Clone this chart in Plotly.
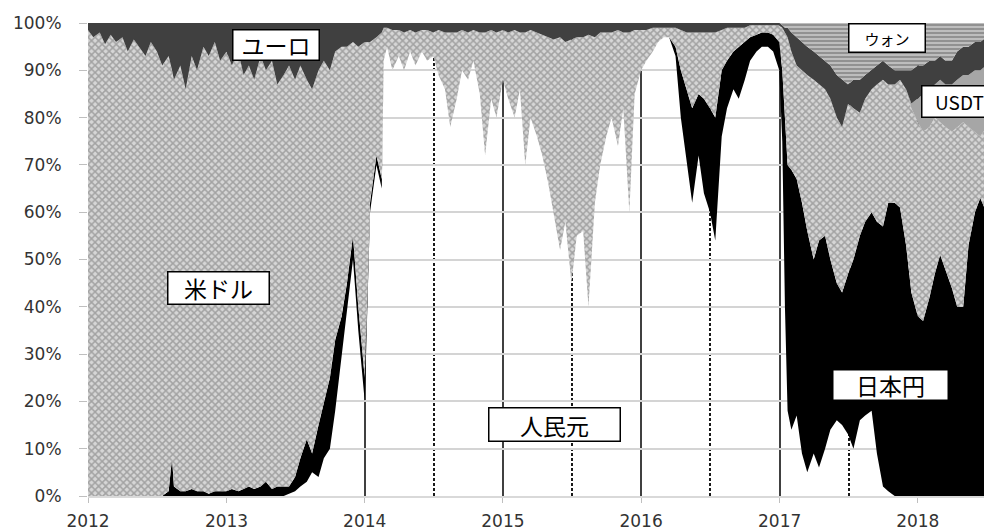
import plotly.graph_objects as go

# ---- data (share of trading volume, %) ----
dates = [
    # 2012
    "2012-01-01","2012-01-15","2012-02-01","2012-02-15","2012-03-01","2012-03-15","2012-04-01","2012-04-15",
    "2012-05-01","2012-05-15","2012-06-01","2012-06-15","2012-07-01","2012-07-15","2012-08-01","2012-08-10",
    "2012-08-15","2012-09-01","2012-09-15","2012-10-01","2012-10-15","2012-11-01","2012-11-15","2012-12-01","2012-12-15",
    # 2013
    "2013-01-01","2013-01-15","2013-02-01","2013-02-15","2013-03-01","2013-03-15","2013-04-01","2013-04-15",
    "2013-05-01","2013-05-15","2013-06-01","2013-06-15","2013-07-01","2013-07-15","2013-08-01","2013-08-15",
    "2013-09-01","2013-09-15","2013-10-01","2013-10-15","2013-11-01","2013-11-15","2013-12-01","2013-12-15",
    # 2014
    "2014-01-01","2014-01-15","2014-02-01","2014-02-15","2014-02-20","2014-03-01","2014-03-15","2014-04-01",
    "2014-04-15","2014-05-01","2014-05-15","2014-06-01","2014-06-15","2014-07-01","2014-07-15","2014-08-01",
    "2014-08-15","2014-09-01","2014-09-15","2014-10-01","2014-10-15","2014-11-01","2014-11-15","2014-12-01","2014-12-15",
    # 2015
    "2015-01-01","2015-01-15","2015-02-01","2015-02-15","2015-03-01","2015-03-15","2015-04-01","2015-04-15",
    "2015-05-01","2015-05-15","2015-06-01","2015-06-15","2015-07-01","2015-07-15","2015-08-01","2015-08-15",
    "2015-09-01","2015-09-15","2015-10-01","2015-10-15","2015-11-01","2015-11-15","2015-12-01","2015-12-15",
    # 2016
    "2016-01-01","2016-01-15","2016-02-01","2016-02-15","2016-03-01","2016-03-15","2016-04-01","2016-04-15",
    "2016-05-01","2016-05-15","2016-06-01","2016-06-15","2016-07-01","2016-07-15","2016-08-01","2016-08-15",
    "2016-09-01","2016-09-15","2016-10-01","2016-10-15","2016-11-01","2016-11-15","2016-12-01","2016-12-15","2016-12-31",
    # 2017
    "2017-01-08","2017-01-15","2017-01-22","2017-02-01","2017-02-15","2017-03-01","2017-03-15","2017-04-01",
    "2017-04-15","2017-05-01","2017-05-15","2017-06-01","2017-06-15","2017-07-01","2017-07-15","2017-08-01",
    "2017-08-15","2017-09-01","2017-09-15","2017-10-01","2017-10-15","2017-11-01","2017-11-15","2017-12-01","2017-12-15",
    # 2018
    "2018-01-01","2018-01-15","2018-02-01","2018-02-15","2018-03-01","2018-03-15","2018-04-01","2018-04-15",
    "2018-05-01","2018-05-15","2018-06-01","2018-06-15","2018-07-01","2018-07-15",
]

cny = [
    0,0,0,0,0,0,0,0,0,0,0,0,0,0,0,0,0,0,0,0,0,0,0,0,0,
    0,0,0,0,0,0,0,0,0,0,0,0.5,1,2,3,5,4,8,10,18,30,40,50,35,
    20,60,70,65,92,95,90,93,90,94,91,94,92,93,89,86,78,84,90,88,92,85,72,84,80,
    88,84,80,86,70,80,76,72,66,60,52,58,45,55,56,40,62,70,76,80,74,82,60,85,
    90,92,94,96,97,97,93,80,70,62,72,64,60,54,76,82,86,84,88,92,94,95,95,94,90,
    75,40,18,14,17,9,5,9,6,10,14,16,15,13,10,16,17,18,9,2,1,0,0,0,0,
    0,0,0,0,0,0,0,0,0,0,0,0,0,0,
]

jpy = [
    0,0,0,0,0,0,0,0,0,0,0,0,0,0,1,8,2,1,1,1.5,1,1,0.5,1,1,
    1,1.5,1,1.5,2,1.5,2,3,1.5,2,2,1.5,3,6,9,4,11,12,15,15,8,5,5,5,
    5,2,2,2,0,0,0,0,0,0,0,0,0,0,0,0,0,0,0,0,0,0,0,0,0,
    0,0,0,0,0,0,0,0,0,0,0,0,0,0,0,0,0,0,0,0,0,0,0,0,
    0,0,0,0,0,0,2,10,16,20,13,20,22,26,14,10,8,11,8,5,3.5,3,3,3.5,6,
    15,40,52,55,50,53,51,41,48,45,36,29,28,34,40,39,41,42,49,55,61,62,61,53,43,
    38,37,42,47,51,48,44,40,40,53,60,63,60,52,
]

usd = [
    98.5,97,98,95.5,97.5,96,97,94,96.5,95,93,96,94,91,92,82,86,90,85,91.5,89,94,92.5,95,91,
    93,89.5,93,87.5,89,86.5,91,87,90.5,85,87,89,84,83,76,77,75,72,65,61,57,50,41,55,
    71,34,25,31,7,4,8.5,5.5,8,4.5,7,4.5,6.5,5,9.5,12,20,14,8.5,10,6.5,13,26,14.5,18,
    10.5,14,18.5,12,28,18.5,22,25.5,31,36.5,45,38,51.5,42,41,57.5,35,28,22,18,24.5,16,38,13.5,
    8.5,6.5,5,3,2,2,4,8.5,12,16,13,14,16,18,8.5,7,5,4,3,2.5,2,1.5,1.5,2,3.5,
    9,18,27,25,24,28,33,38,33,31,34,35,35,36,32,26,26,26,29,31,25,25,27,33,39,
    41,40,36,33,28,30,33,38,39,25,17,13,18,27,
]

usdt = [0] * 147 + [1] + [5,8,8,7,9,9,10,10,10,11,13,14,13,13]

eur = [
    1.5,3,2,4.5,2.5,4,3,6,3.5,5,7,4,6,9,7,10,12,9,14,7,10,5,7,4,8,
    6,9,6,11,9,12,7,10,8,13,11,9,12,9,12,14,10,8,10,6,5,5,4,5,
    4,4,3,2,1,1,1.5,1.5,2,1.5,2,1.5,1.5,2,1.5,2,2,2,1.5,2,1.5,2,2,1.5,2,
    1.5,2,1.5,2,2,1.5,2,2.5,3,3.5,3,4,3.5,3,3,2.5,3,2,2,2,1.5,2,2,1.5,
    1.5,1.5,1,1,1,1,1,1.5,2,2,2,2,2,2,1.5,1,1,1,1,0.5,0.5,0.5,0.5,0.5,0.5,
    0.5,1,2,4,6,6,6,6,6,6,7,9,10,4,6,7,5,4,4,4,4,3,2,4,7,
    7,6,6,5,5,5,5,6,6,6,6,6,6,5,
]

krw = [0] * 123 + [
    0.5,1,1,2,3,4,5,6,7,8,9,11,12,13,12,12,11,10,9,8,9,10,10,10,10,
    9,9,8,8,7,8,8,6,5,5,4,4,3,3,
]

year_ticks = ["2012-01-01","2013-01-01","2014-01-01","2015-01-01","2016-01-01","2017-01-01","2018-01-01"]
year_labels = ["2012","2013","2014","2015","2016","2017","2018"]
half_year_ticks = ["2014-07-02","2015-07-02","2016-07-01","2017-07-02"]
pct_ticks = [0,10,20,30,40,50,60,70,80,90,100]
pct_labels = ["0%","10%","20%","30%","40%","50%","60%","70%","80%","90%","100%"]

labels = {"cny": "人民元", "jpy": "日本円", "usd": "米ドル", "usdt": "USDT", "eur": "ユーロ", "krw": "ウォン"}

# ---- figure ----
fig = go.Figure()

def add(name, vals, fillcolor, pattern=None):
    fig.add_trace(go.Scatter(
        x=dates, y=vals, name=name, stackgroup="one", mode="lines",
        line=dict(width=0, color=fillcolor), fillcolor=fillcolor,
        fillpattern=pattern, hoverinfo="skip",
    ))

add(labels["cny"], cny, "rgba(255,255,255,0)")
add(labels["jpy"], jpy, "#000000")
add(labels["usd"], usd, "#c4c4c4",
    dict(shape="x", size=5, solidity=0.5, fgcolor="#6e6e6e", bgcolor="#d6d6d6"))
add(labels["usdt"], usdt, "#a6a6a6")
add(labels["eur"], eur, "#404040")
add(labels["krw"], krw, "#b3b3b3",
    dict(shape="-", size=4, solidity=0.45, fgcolor="#5a5a5a", bgcolor="#bdbdbd"))

ann_font = dict(family="Noto Sans CJK JP", color="#000000")
boxes = [
    # text, paper x, paper y, width, height, font size
    (labels["eur"], 0.2085, 0.9545, 85, 29, 23),
    (labels["usd"], 0.1449, 0.4387, 100, 31, 23),
    (labels["cny"], 0.5155, 0.1522, 130, 32, 23),
    (labels["jpy"], 0.8872, 0.2357, 114, 29, 23),
    (labels["krw"], 0.8833, 0.9693, 75, 27, 15),
    (labels["usdt"], 0.9646, 0.8350, 74, 30, 19),
]
for text, px, py, w, h, fs in boxes:
    fig.add_annotation(
        x=px, y=py, xref="paper", yref="paper", text=text, showarrow=False,
        xanchor="center", yanchor="middle", width=w, height=h,
        font=dict(size=fs, **ann_font), bgcolor="#ffffff",
        bordercolor="#000000", borderwidth=1.5, borderpad=0,
    )

# page body adds an 8px offset, so the figure is 8px smaller and margins shifted
fig.update_layout(
    width=984, height=523,
    margin=dict(l=80, r=0, t=15, b=35, autoexpand=False),
    paper_bgcolor="#ffffff", plot_bgcolor="#ffffff",
    showlegend=False,
    font=dict(family="DejaVu Sans", size=17, color="#333333"),
)

fig.update_xaxes(
    type="date", range=["2012-01-01", "2018-07-16"],
    tickmode="array", tickvals=year_ticks, ticktext=year_labels,
    ticks="outside", ticklen=5, tickcolor="#bfbfbf",
    ticklabelstandoff=4, automargin=False,
    showgrid=True, gridcolor="#404040", gridwidth=1.5,
    minor=dict(tickmode="array", tickvals=half_year_ticks,
               showgrid=True, gridcolor="#1a1a1a", gridwidth=1.5, griddash="3px,2px", ticks=""),
    showline=True, linecolor="#d9d9d9", linewidth=1.5,
    zeroline=False, fixedrange=True,
)
fig.update_yaxes(
    range=[0, 100], tickmode="array", tickvals=pct_ticks, ticktext=pct_labels,
    ticks="outside", ticklen=8, tickcolor="#bfbfbf",
    ticklabelstandoff=14, automargin=False,
    showgrid=True, gridcolor="#d4d4d4", gridwidth=1.5,
    zeroline=False, showline=False, fixedrange=True,
)

fig.write_html("out.html")
